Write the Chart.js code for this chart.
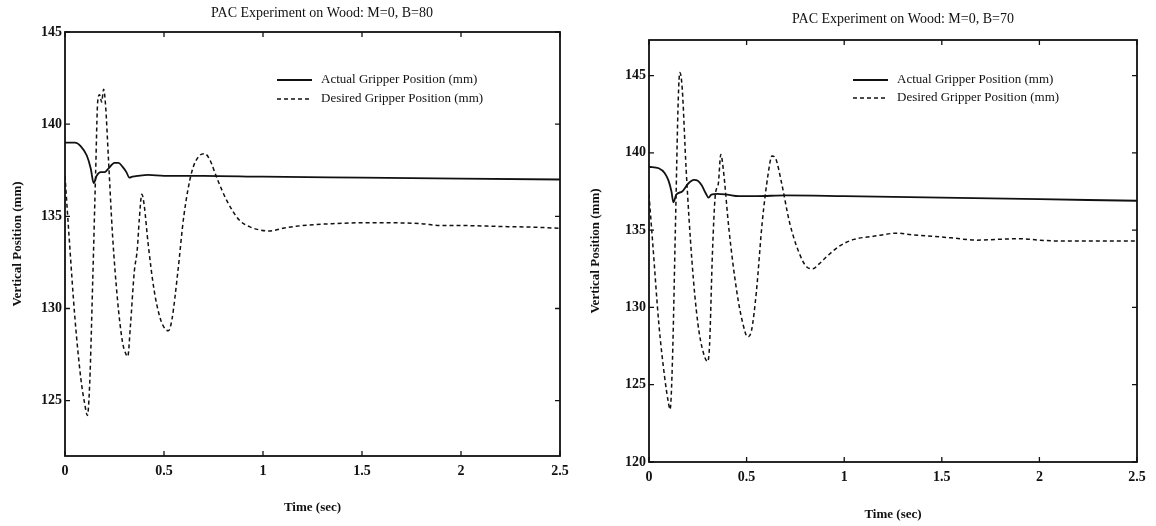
<!DOCTYPE html>
<html>
<head>
<meta charset="utf-8">
<title>PAC Experiment on Wood</title>
<script src="https://cdn.jsdelivr.net/npm/chart.js@4.4.1/dist/chart.umd.min.js"></script>
<style>
  html, body { margin: 0; padding: 0; background: #fff; }
  .panel { position: absolute; top: 0; width: 578px; height: 526px; }
  #p80 { left: 0; }
  #p70 { left: 578px; }
</style>
</head>
<body>
<div class="panel" id="p80"><canvas id="c80"></canvas></div>
<div class="panel" id="p70"><canvas id="c70"></canvas></div>
<script>
// axis ticks
const timeTicks = [0, 0.5, 1, 1.5, 2, 2.5];
const posTicks80 = [125, 130, 135, 140, 145];
const posTicks70 = [120, 125, 130, 135, 140, 145];

// M=0, B=80
const tActual80 = [0, 0.05, 0.08, 0.11, 0.13, 0.145, 0.16, 0.18, 0.2, 0.22, 0.25, 0.27, 0.29, 0.31, 0.325, 0.34, 0.37, 0.42, 0.5, 0.7, 1.0, 1.5, 2.0, 2.5];
const actual80 = [139.0, 139.0, 138.8, 138.3, 137.6, 136.8, 137.2, 137.4, 137.4, 137.6, 137.9, 137.9, 137.7, 137.4, 137.1, 137.15, 137.2, 137.25, 137.2, 137.2, 137.15, 137.1, 137.05, 137.0];
const tDesired80 = [0, 0.02, 0.05, 0.08, 0.1, 0.113, 0.125, 0.14, 0.155, 0.165, 0.175, 0.185, 0.195, 0.205, 0.22, 0.24, 0.265, 0.29, 0.305, 0.317, 0.33, 0.35, 0.365, 0.375, 0.388, 0.4, 0.42, 0.45, 0.48, 0.505, 0.523, 0.54, 0.57, 0.6, 0.64, 0.68, 0.705, 0.73, 0.77, 0.82, 0.88, 0.94, 0.99, 1.03, 1.1, 1.2, 1.35, 1.5, 1.65, 1.8, 1.9, 2.0, 2.2, 2.4, 2.5];
const desired80 = [137.2, 134.0, 129.5, 126.2, 124.8, 124.2, 126.0, 131.5, 137.5, 141.2, 141.6, 141.2, 141.9, 141.0, 138.0, 134.0, 130.5, 128.2, 127.6, 127.4, 129.0, 132.0, 133.2, 134.8, 136.2, 135.6, 133.5, 131.0, 129.5, 128.9, 128.8, 129.4, 132.0, 135.0, 137.4, 138.3, 138.4, 138.1, 137.0, 135.8, 134.8, 134.4, 134.25, 134.2, 134.35, 134.5, 134.6, 134.65, 134.65, 134.6, 134.5, 134.5, 134.45, 134.4, 134.35];

// M=0, B=70
const tActual70 = [0, 0.05, 0.08, 0.1, 0.115, 0.125, 0.14, 0.17, 0.2, 0.23, 0.25, 0.27, 0.29, 0.305, 0.32, 0.35, 0.4, 0.46, 0.55, 0.7, 1.0, 1.5, 2.0, 2.5];
const actual70 = [139.1, 139.0, 138.7, 138.2, 137.5, 136.8, 137.3, 137.5, 138.0, 138.25, 138.2, 137.9, 137.4, 137.1, 137.3, 137.35, 137.3, 137.2, 137.2, 137.25, 137.2, 137.1, 137.0, 136.9];
const tDesired70 = [0, 0.02, 0.05, 0.08, 0.1, 0.108, 0.12, 0.135, 0.15, 0.158, 0.17, 0.19, 0.22, 0.25, 0.28, 0.3, 0.31, 0.325, 0.34, 0.355, 0.368, 0.38, 0.41, 0.45, 0.48, 0.505, 0.525, 0.55, 0.58, 0.61, 0.63, 0.65, 0.68, 0.72, 0.77, 0.81, 0.84, 0.87, 0.92, 0.98, 1.05, 1.15, 1.27, 1.35, 1.45, 1.55, 1.68, 1.78, 1.9, 2.0, 2.1, 2.3, 2.5];
const desired70 = [137.3, 134.0, 129.0, 125.5, 123.8, 123.4, 126.5, 135.0, 143.5, 145.2, 144.2, 139.0, 133.0, 129.0, 127.0, 126.5, 127.5, 133.5, 137.3, 138.0, 139.9, 139.0, 135.0, 131.0, 129.0, 128.1, 128.5, 131.0, 135.5, 138.6, 139.8, 139.6, 138.0, 135.5, 133.5, 132.6, 132.5, 132.8, 133.4, 134.0, 134.4, 134.6, 134.8, 134.7, 134.6, 134.5, 134.35, 134.4, 134.45, 134.35, 134.3, 134.3, 134.3];

const SERIF = '"Liberation Serif", "DejaVu Serif", serif';
const INK = '#111';

function pts(ts, ys) { return ts.map((t, i) => ({ x: t, y: ys[i] })); }

// box, inward ticks on all four sides, title and in-plot legend
const framePlugin = {
  id: 'frame',
  afterDraw(chart, args, o) {
    const { ctx, chartArea: a, scales: { x, y } } = chart;
    ctx.save();
    ctx.strokeStyle = INK;
    ctx.lineWidth = 1.8;
    ctx.strokeRect(a.left, a.top, a.right - a.left, a.bottom - a.top);
    ctx.lineWidth = 1.3;
    ctx.beginPath();
    x.ticks.forEach(t => {
      const px = x.getPixelForValue(t.value);
      ctx.moveTo(px, a.bottom); ctx.lineTo(px, a.bottom - 5);
      ctx.moveTo(px, a.top); ctx.lineTo(px, a.top + 5);
    });
    y.ticks.forEach(t => {
      const py = y.getPixelForValue(t.value);
      ctx.moveTo(a.left, py); ctx.lineTo(a.left + 5, py);
      ctx.moveTo(a.right, py); ctx.lineTo(a.right - 5, py);
    });
    ctx.stroke();

    ctx.fillStyle = INK;
    ctx.font = '14px ' + SERIF;
    ctx.textAlign = 'center';
    ctx.textBaseline = 'middle';
    ctx.fillText(o.title, o.titleX, o.titleY);

    ctx.font = '13px ' + SERIF;
    ctx.textAlign = 'left';
    chart.data.datasets.forEach((ds, i) => {
      const ly = a.top + o.legendTop + i * o.legendGap;
      const lx = a.left + o.legendLeft;
      ctx.setLineDash(ds.borderDash || []);
      ctx.lineWidth = ds.borderWidth;
      ctx.beginPath(); ctx.moveTo(lx, ly); ctx.lineTo(lx + 35, ly); ctx.stroke();
      ctx.setLineDash([]);
      ctx.fillText(ds.label, lx + 44, ly);
    });
    ctx.restore();
  }
};

function plot(id, s) {
  const tickFont = { family: SERIF, size: 14, weight: 'bold' };
  const titleFont = { family: SERIF, size: 13, weight: 'bold' };
  return new Chart(document.getElementById(id), {
    type: 'line',
    data: {
      datasets: [
        { label: 'Actual Gripper Position (mm)', data: pts(s.tA, s.yA), borderColor: INK, borderWidth: 1.8,
          pointRadius: 0, tension: 0.4, cubicInterpolationMode: 'monotone' },
        { label: 'Desired Gripper Position (mm)', data: pts(s.tD, s.yD), borderColor: INK, borderWidth: 1.5,
          borderDash: [4, 3], pointRadius: 0, tension: 0.4, cubicInterpolationMode: 'monotone' }
      ]
    },
    options: {
      responsive: true,
      maintainAspectRatio: false,
      animation: false,
      layout: { padding: { top: s.top, right: s.right, left: 0, bottom: 0 } },
      plugins: {
        legend: { display: false },
        tooltip: { enabled: false },
        frame: { title: s.title, titleX: s.titleX, titleY: s.titleY,
                 legendLeft: s.legLeft, legendTop: s.legTop, legendGap: s.legGap }
      },
      scales: {
        x: {
          type: 'linear', min: 0, max: 2.5,
          grid: { display: false, drawTicks: false },
          border: { display: false },
          afterBuildTicks: sc => { sc.ticks = timeTicks.map(v => ({ value: v })); },
          afterFit: sc => { sc.height = s.xh; },
          ticks: { padding: 7, color: INK, font: tickFont, maxRotation: 0, autoSkip: false, callback: v => String(v) },
          title: { display: true, text: 'Time (sec)', color: INK, font: titleFont, padding: { top: 0, bottom: s.xtb } }
        },
        y: {
          type: 'linear', min: s.min, max: s.max,
          grid: { display: false, drawTicks: false },
          border: { display: false },
          afterBuildTicks: sc => { sc.ticks = s.yTicks.map(v => ({ value: v })); },
          afterFit: sc => { sc.width = s.yw; },
          ticks: { padding: 3, color: INK, font: tickFont, callback: v => String(v) },
          title: { display: true, text: 'Vertical Position (mm)', color: INK, font: titleFont, padding: { top: s.ytp, bottom: 0 } }
        }
      }
    },
    plugins: [framePlugin]
  });
}

plot('c80', {
  tA: tActual80, yA: actual80, tD: tDesired80, yD: desired80, yTicks: posTicks80,
  min: 122, max: 145, top: 32, right: 18, xh: 70, xtb: 11, yw: 65, ytp: 10,
  title: 'PAC Experiment on Wood: M=0, B=80', titleX: 322, titleY: 13,
  legLeft: 212, legTop: 48, legGap: 19
});

plot('c70', {
  tA: tActual70, yA: actual70, tD: tDesired70, yD: desired70, yTicks: posTicks70,
  min: 120, max: 147.3, top: 40, right: 19, xh: 64, xtb: 4, yw: 71, ytp: 10,
  title: 'PAC Experiment on Wood: M=0, B=70', titleX: 325, titleY: 19,
  legLeft: 204, legTop: 40, legGap: 18
});
</script>
</body>
</html>
